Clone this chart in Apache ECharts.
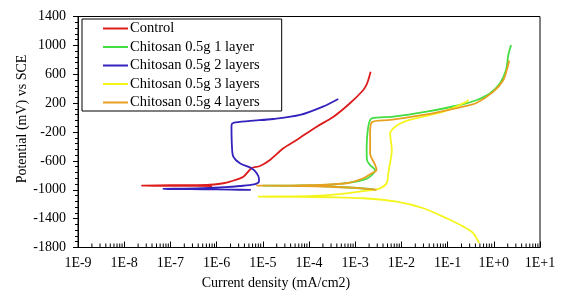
<!DOCTYPE html>
<html>
<head>
<meta charset="utf-8">
<script src="https://cdn.jsdelivr.net/npm/echarts@6/dist/echarts.min.js"></script>
<style>
  html, body { margin: 0; padding: 0; background: #fff; }
  #chart { width: 561px; height: 293px; }
</style>
</head>
<body>
<div id="chart"></div>
<script>
// [current density (mA/cm2), potential (mV)] in scan order
const control = [
  [8e-7, -950], [2e-7, -946], [2.4e-8, -943], [1e-7, -938], [6.1e-7, -933],
  [1.4e-6, -910], [1.95e-6, -888], [3.8e-6, -819], [5.7e-6, -703], [8.7e-6, -671],
  [1.43e-5, -588], [2.78e-5, -426], [5.4e-5, -310], [1.47e-4, -126], [3.4e-4, 12],
  [7.7e-4, 198], [1.5e-3, 382], [1.77e-3, 460], [1.92e-3, 521], [2.16e-3, 636]
]
const layer1 = [
  [2.6e-3, -995], [3e-4, -955], [3e-5, -945], [1e-5, -944], [5e-5, -942],
  [3e-4, -930], [7.7e-4, -902], [1.5e-3, -864], [2.09e-3, -819], [2.69e-3, -726],
  [2.09e-3, -657], [1.8e-3, -588], [1.77e-3, -449], [1.92e-3, -126], [2.28e-3, -10],
  [6.7e-3, 12], [0.035, 82], [0.185, 174], [0.43, 243], [0.83, 336],
  [1.36, 475], [1.84, 659], [2.06, 867], [2.36, 1005]
]
const layer2 = [
  [5.5e-6, -1003], [2e-6, -998], [5e-7, -993], [1.5e-7, -990], [7e-8, -988],
  [2e-7, -985], [5.2e-7, -979], [1.5e-6, -965], [3.2e-6, -948], [6.5e-6, -925],
  [8.2e-6, -895], [8.3e-6, -855], [7.4e-6, -772], [5.7e-6, -703], [3.2e-6, -634],
  [2.3e-6, -541], [2.15e-6, -400], [2.1e-6, -110], [2.3e-6, -72], [5.3e-6, -47],
  [1.69e-5, -20], [6.4e-5, 36], [2e-4, 151], [4.3e-4, 257]
]
const layer3 = [
  [0.48, -1741], [0.36, -1603], [0.22, -1511], [0.095, -1395], [0.03, -1256],
  [7.9e-3, -1165], [1.5e-3, -1118], [2.85e-4, -1104], [5e-5, -1098], [8e-6, -1096],
  [3e-5, -1092], [1.24e-4, -1086], [6.5e-4, -1049], [2e-3, -1010], [3.44e-3, -980],
  [4.8e-3, -910], [5.2e-3, -772], [5.5e-3, -680], [6.2e-3, -449], [5.7e-3, -218],
  [6.7e-3, -149], [9e-3, -90], [0.015, -33], [0.081, 82], [0.26, 220], [0.28, 250]
]
const layer4 = [
  [2.9e-3, -1003], [1e-3, -975], [2e-4, -955], [3e-5, -946], [7.4e-6, -943],
  [2.35e-5, -942], [1e-4, -938], [6.5e-4, -910], [1.5e-3, -841], [2.28e-3, -772],
  [2.9e-3, -726], [2.7e-3, -657], [2.1e-3, -495], [2.1e-3, -218], [2.3e-3, -65],
  [5.7e-3, -33], [0.03, 36], [0.185, 142], [0.43, 206], [0.98, 359],
  [1.61, 521], [2.0, 705], [2.15, 790]
]
const seriesNames = ['Control', 'Chitosan 0.5g 1 layer', 'Chitosan 0.5g 2 layers', 'Chitosan 0.5g 3 layers', 'Chitosan 0.5g 4 layers']
const seriesColors = ['#dd1c1c', '#44dd44', '#3322bb', '#f5f51e', '#e8a020']
const seriesData = [control, layer1, layer2, layer3, layer4]

const xMin = 1e-9
const xMax = 10
const yMin = -1800
const yMax = 1400
const yStep = 400

// minor ticks on the log axis: 2..9 in each decade
const minorTicks = []
for (let e = -9; e < 1; e++) {
  for (let k = 2; k <= 9; k++) minorTicks.push([k * Math.pow(10, e), yMin])
}

const font = 'Liberation Serif'
const chart = echarts.init(document.getElementById('chart'))

const series = seriesData.map((d, i) => ({
  name: seriesNames[i],
  type: 'line',
  data: d,
  smooth: 0.3,
  symbol: 'none',
  color: seriesColors[i],
  lineStyle: { width: 1.8, color: seriesColors[i] },
  z: 3 + i
}))
// log minor ticks: invisible line, only its small rect symbols on the x axis
series.push({
  name: 'minor',
  type: 'line',
  silent: true,
  data: minorTicks,
  symbol: 'rect',
  symbolSize: [1, 4],
  symbolOffset: [0, -2],
  showSymbol: true,
  showAllSymbol: true,
  itemStyle: { color: '#000' },
  lineStyle: { opacity: 0, width: 0 },
  clip: false,
  z: 10
})

const option = {
  animation: false,
  grid: { left: 78, right: 21, top: 16.5, bottom: 45.5, show: true, borderColor: '#000', borderWidth: 1 },
  legend: {
    data: seriesNames,
    orient: 'vertical',
    left: 82,
    top: 19,
    borderColor: '#000',
    borderWidth: 1,
    padding: [2, 22, 1, 21],
    icon: 'rect',
    itemWidth: 25,
    itemHeight: 2,
    itemGap: 3.5,
    textStyle: { fontFamily: font, fontSize: 14.5, lineHeight: 14, color: '#000', padding: [0, 0, 0, -3] }
  },
  xAxis: {
    type: 'log',
    logBase: 10,
    min: xMin,
    max: xMax,
    interval: 1,
    axisLine: { onZero: false, lineStyle: { color: '#000' } },
    axisTick: { inside: true, length: 6, lineStyle: { color: '#000' } },
    splitLine: { show: false },
    axisLabel: {
      color: '#000', fontFamily: font, fontSize: 14, margin: 9,
      formatter: function (v) {
        const e = Math.round(Math.log10(v))
        return '1E' + (e >= 0 ? '+' : '-') + Math.abs(e)
      }
    }
  },
  yAxis: {
    type: 'value',
    min: yMin,
    max: yMax,
    interval: yStep,
    axisLine: { show: true, onZero: false, lineStyle: { color: '#000' } },
    axisTick: { length: 5, lineStyle: { color: '#000' } },
    minorTick: { show: true, splitNumber: 5, length: 3, lineStyle: { color: '#000' } },
    splitLine: { show: false },
    axisLabel: { color: '#000', fontFamily: font, fontSize: 14, margin: 12, formatter: v => String(v) }
  },
  graphic: [
    {
      type: 'text', x: 276, y: 283,
      style: { text: 'Current density (mA/cm2)', font: '14px "Liberation Serif"', fill: '#000', textAlign: 'center', textVerticalAlign: 'middle' }
    },
    {
      type: 'text', x: 22, y: 119, rotation: Math.PI / 2,
      style: { text: 'Potential (mV) vs SCE', font: '14px "Liberation Serif"', fill: '#000', textAlign: 'center', textVerticalAlign: 'middle' }
    }
  ],
  series: series
}

chart.setOption(option)
</script>
</body>
</html>
